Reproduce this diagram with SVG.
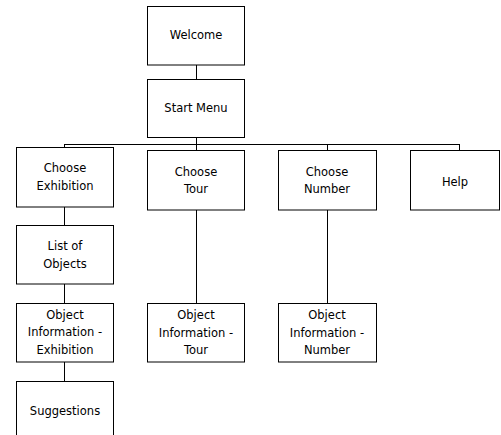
<svg xmlns="http://www.w3.org/2000/svg" width="501" height="435" viewBox="0 0 501 435">
<style>
rect{fill:#fff;stroke:#000;stroke-width:1}
text{font-family:"DejaVu Sans",sans-serif;font-size:11.5px;fill:#000;text-anchor:middle}
#connectors line{stroke:#000;stroke-width:1}
</style>
<rect x="0" y="0" width="501" height="435" style="stroke:none"/>
<g id="connectors">
<line x1="196.5" y1="65" x2="196.5" y2="79"/>
<line x1="196.5" y1="137" x2="196.5" y2="144"/>
<line x1="64" y1="144.5" x2="459" y2="144.5"/>
<line x1="64.5" y1="144" x2="64.5" y2="147"/>
<line x1="196.5" y1="144" x2="196.5" y2="150"/>
<line x1="327.5" y1="144" x2="327.5" y2="150"/>
<line x1="459.5" y1="144" x2="459.5" y2="150"/>
<line x1="64.5" y1="207" x2="64.5" y2="225"/>
<line x1="64.5" y1="284" x2="64.5" y2="303"/>
<line x1="64.5" y1="362" x2="64.5" y2="381"/>
<line x1="196.5" y1="210" x2="196.5" y2="303"/>
<line x1="327.5" y1="210" x2="327.5" y2="303"/>
</g>
<g id="welcome"><rect x="147.5" y="6.5" width="97" height="58.5"/><text x="196" y="39">Welcome</text></g>
<g id="start-menu"><rect x="147.5" y="79.5" width="97" height="58"/><text x="196" y="112">Start Menu</text></g>
<g id="choose-exhibition"><rect x="16.5" y="147.5" width="97" height="59.5"/><text x="65" y="172">Choose</text><text x="65" y="190">Exhibition</text></g>
<g id="choose-tour"><rect x="147.5" y="150.5" width="97" height="59.5"/><text x="196" y="176">Choose</text><text x="196" y="193">Tour</text></g>
<g id="choose-number"><rect x="278.5" y="150.5" width="98" height="59.5"/><text x="327" y="176">Choose</text><text x="327" y="193">Number</text></g>
<g id="help"><rect x="410.5" y="150.5" width="89" height="59.5"/><text x="455" y="186">Help</text></g>
<g id="list-of-objects"><rect x="16.5" y="225.5" width="97" height="58.5"/><text x="65" y="250">List of</text><text x="65" y="268">Objects</text></g>
<g id="object-info-exhibition"><rect x="16.5" y="303.5" width="97" height="58.5"/><text x="65" y="319">Object</text><text x="65" y="336">Information -</text><text x="65" y="354">Exhibition</text></g>
<g id="suggestions"><rect x="16.5" y="381.5" width="97" height="60"/><text x="65" y="415">Suggestions</text></g>
<g id="object-info-tour"><rect x="147.5" y="303.5" width="97" height="58.5"/><text x="196" y="319">Object</text><text x="196" y="337">Information -</text><text x="196" y="354">Tour</text></g>
<g id="object-info-number"><rect x="278.5" y="303.5" width="98" height="58.5"/><text x="327" y="319">Object</text><text x="327" y="337">Information -</text><text x="327" y="354">Number</text></g>
</svg>
